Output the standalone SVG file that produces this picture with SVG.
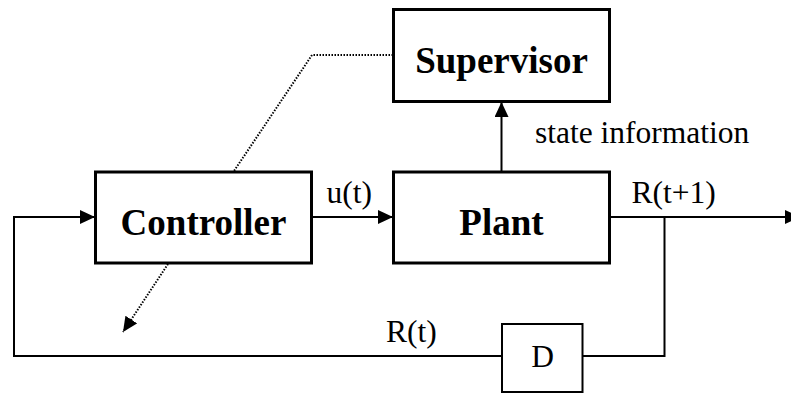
<svg xmlns="http://www.w3.org/2000/svg" width="791" height="394" viewBox="0 0 791 394">
  <style>
    .box { fill: #ffffff; stroke: #000000; stroke-width: 3; }
    .dbox { fill: #ffffff; stroke: #000000; stroke-width: 2; }
    .wire { fill: none; stroke: #000000; stroke-width: 2; }
    .dots { fill: none; stroke: #000000; stroke-width: 2; stroke-dasharray: 1.5 1.5; }
    .big { font-family: "Liberation Serif", "Times New Roman", serif; font-weight: bold; font-size: 37px; fill: #000000; }
    .lbl { font-family: "Liberation Serif", "Times New Roman", serif; font-size: 31.5px; fill: #000000; }
  </style>
  <defs>
    <marker id="arrow" markerUnits="userSpaceOnUse" markerWidth="16" markerHeight="15" refX="15" refY="7" orient="auto">
      <path d="M0,0 L15,7 L0,14 Z" fill="#000000" stroke="none"/>
    </marker>
  </defs>

  <g id="connectors">
    <!-- controller output u(t) into plant -->
    <line class="wire" x1="312" y1="217" x2="393" y2="217" marker-end="url(#arrow)"/>
    <!-- plant output R(t+1) -->
    <line class="wire" x1="610" y1="217" x2="800" y2="217" marker-end="url(#arrow)"/>
    <!-- state information up to supervisor -->
    <line class="wire" x1="501.5" y1="171" x2="501.5" y2="102" marker-end="url(#arrow)"/>
    <!-- feedback through delay -->
    <polyline class="wire" points="664.5,217 664.5,356 583,356"/>
    <polyline class="wire" points="502,356 14,356 14,217 95,217" marker-end="url(#arrow)"/>
    <!-- supervisor to controller (dotted) -->
    <polyline class="dots" points="393,55 312,55 234,171"/>
    <!-- controller adaptation (dotted) -->
    <line class="dots" x1="168" y1="264" x2="123" y2="332" marker-end="url(#arrow)"/>
  </g>

  <g id="supervisor">
    <rect class="box" x="393.5" y="9.5" width="216" height="92"/>
    <text class="big" x="501.5" y="72.5" text-anchor="middle">Supervisor</text>
  </g>

  <g id="controller">
    <rect class="box" x="95.5" y="172" width="216" height="91"/>
    <text class="big" x="203.5" y="235" text-anchor="middle">Controller</text>
  </g>

  <g id="plant">
    <rect class="box" x="393.5" y="172" width="216" height="91"/>
    <text class="big" x="501.5" y="234.5" text-anchor="middle">Plant</text>
  </g>

  <g id="delay">
    <rect class="dbox" x="502" y="324" width="80.5" height="68"/>
    <text class="lbl" x="542.5" y="366.5" text-anchor="middle">D</text>
  </g>

  <g id="labels">
    <text class="lbl" x="535" y="142.5">state information</text>
    <text class="lbl" x="326.5" y="203">u(t)</text>
    <text class="lbl" x="631.5" y="202.5">R(t+1)</text>
    <text class="lbl" x="386" y="341.5">R(t)</text>
  </g>
</svg>
